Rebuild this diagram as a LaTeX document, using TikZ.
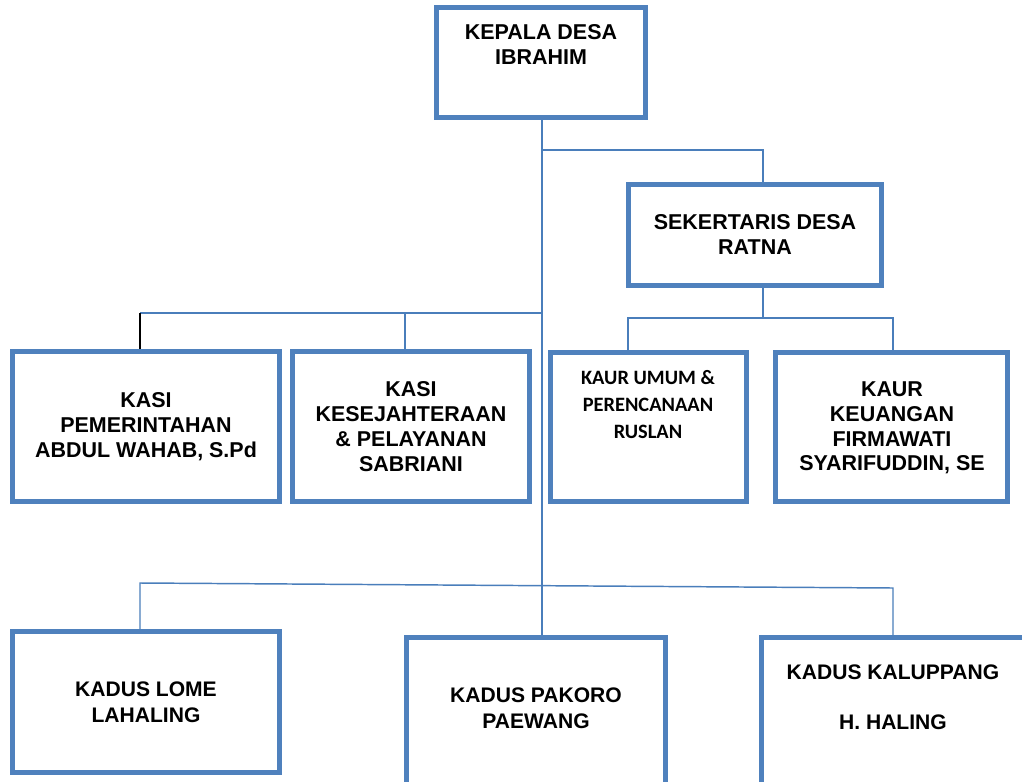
\documentclass[tikz,border=0pt]{standalone}
\usepackage{fontspec}
\setmainfont{Liberation Sans}[BoldFont={Liberation Sans Bold}]
\newfontfamily\calib{Carlito}[BoldFont={Carlito Bold}]
\usetikzlibrary{fit}
\definecolor{boxblue}{HTML}{4F81BD}
\definecolor{lineblue}{HTML}{4A7EBB}
\tikzset{
  orgbox/.style={draw=boxblue, line width=3.75pt, inner sep=0pt},
  conn/.style={draw=lineblue, line width=1.1pt},
  lbl/.style={anchor=north, inner sep=0pt, align=center, text=black,
    font=\bfseries\fontsize{16.1}{18.6}\selectfont},
  lblb/.style={lbl, font=\bfseries\fontsize{15.8}{18.9}\selectfont},
  lblc/.style={anchor=north, inner sep=0pt, align=center, text=black,
    font=\calib\bfseries\fontsize{15.3}{20.2}\selectfont},
}
\begin{document}
\begin{tikzpicture}[x=0.75pt,y=-0.75pt]
\clip (0,0) rectangle (1022,782);
\fill[white] (0,0) rectangle (1022,782);

% boxes
\node[orgbox, fit={(436.5,7.5) (645.5,117.5)}] (kepala) {};
\node[orgbox, fit={(628.5,184.5) (881.5,285.5)}] (sek) {};
\node[orgbox, fit={(12.5,351.5) (279.5,501.5)}] (kasi1) {};
\node[orgbox, fit={(292.5,351.5) (529.5,501.5)}] (kasi2) {};
\node[orgbox, fit={(550.5,352.5) (746.5,501.5)}] (kaur1) {};
\node[orgbox, fit={(775.5,352.5) (1007.5,501.5)}] (kaur2) {};
\node[orgbox, fit={(12.5,631.5) (279.5,772.5)}] (lome) {};
\node[orgbox, fit={(406.5,637.5) (665.5,800)}] (pakoro) {};
\node[orgbox, fit={(761.5,637.5) (1040,800)}] (kalup) {};

% texts
\node[lbl] (tkepala) at (541,24.5) {KEPALA DESA\\IBRAHIM};
\node[lbl] (tsek) at (755,214.5) {SEKERTARIS DESA\\RATNA};
\node[lbl] (tkasi1) at (146,392.5) {KASI\\PEMERINTAHAN\\ABDUL WAHAB, S.Pd};
\node[lbl] (tkasi2) at (411,381.5) {KASI\\KESEJAHTERAAN\\\&\ PELAYANAN\\SABRIANI};
\node[lblc] (tkaur1) at (648,370.5) {KAUR UMUM \&\\PERENCANAAN\\RUSLAN};
\node[lbl] (tkaur2) at (892,381.5) {KAUR\\KEUANGAN\\FIRMAWATI\\SYARIFUDDIN, SE};
\node[lblb] (tlome) at (146,682) {KADUS LOME\\LAHALING};
\node[lblb] (tpakoro) at (536,688) {KADUS PAKORO\\PAEWANG};
\node[lblb] (tkalup) at (893,665) {KADUS KALUPPANG\\[18.6pt]H. HALING};

% connectors
\draw[conn] (kepala.south -| 542,0) -- (pakoro.north -| 542,0);
\draw[conn] (542,150) -| (sek.north -| 763,0);
\draw[conn] (sek.south -| 763,0) -- (763,318);
\draw[conn] (kaur1.north -| 628,0) |- (763,318) -| (kaur2.north -| 893,0);
\draw[conn] (542,313) -| (kasi2.north -| 405,0);
\draw[conn] (405,313) -- (140,313);
\draw[black, line width=1.1pt] (140,313) -- (kasi1.north -| 140,0);
\draw[conn] (lome.north -| 140,0) -- (140,583) -- (893,588) -- (kalup.north -| 893,0);
\end{tikzpicture}
\end{document}
